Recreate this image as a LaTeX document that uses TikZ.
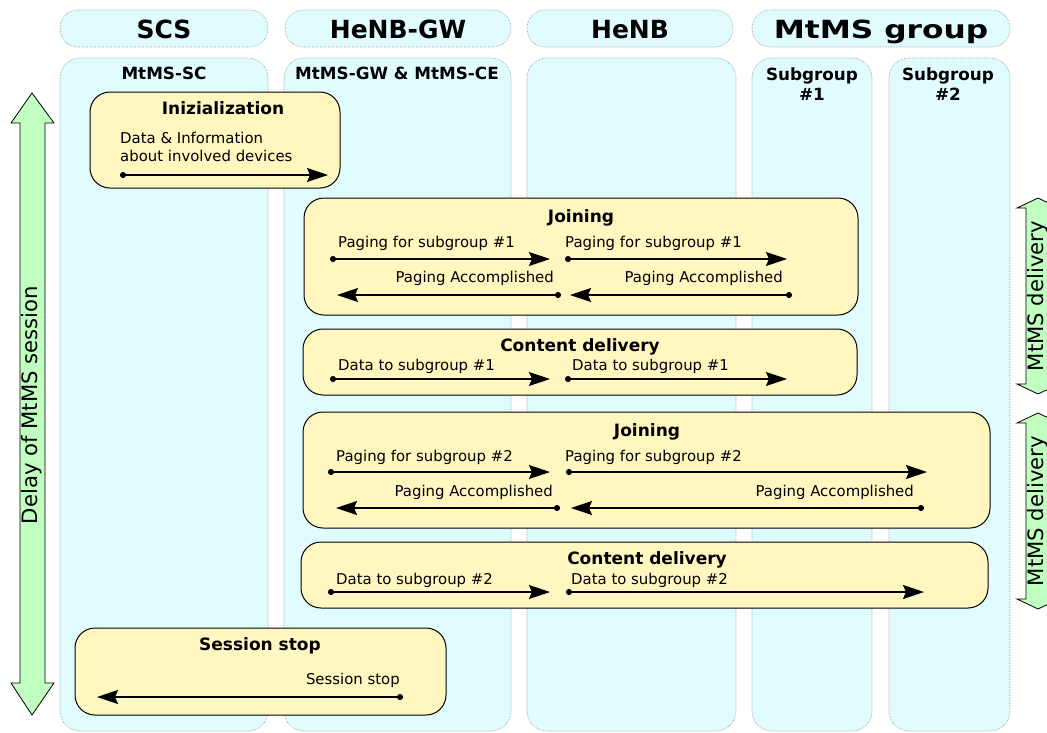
\documentclass[tikz,border=0pt]{standalone}
\usepackage{fontspec}
\setmainfont{DejaVu Sans}
\newfontfamily\widefont[FakeStretch=1.25]{DejaVu Sans}
\usetikzlibrary{arrows.meta,calc}
\definecolor{LaneClr}{rgb}{0.878,0.988,1}
\definecolor{PhaseClr}{rgb}{1,0.965,0.753}
\definecolor{SpanClr}{rgb}{0.753,1,0.753}

\begin{document}
\begin{tikzpicture}[x=1pt,y=-1pt,
  lane/.style={draw=gray!90,densely dotted,line width=0.6pt,fill=LaneClr,rounded corners=20pt},
  pill/.style={lane,rounded corners=18pt},
  phase/.style={draw=black,line width=1pt,fill=PhaseClr,rounded corners=20pt},
  span/.style={draw=black,line width=0.8pt,fill=SpanClr},
  msg/.style={line width=1.5pt,{Circle[length=6pt]}-{Stealth[length=21pt,width=14pt,inset=3pt]}},
  hdr/.style={font=\fontsize{25}{30}\selectfont\bfseries,inner sep=0pt,anchor=base},
  sublbl/.style={font=\fontsize{16.8}{20}\selectfont\bfseries,inner sep=0pt,anchor=base,align=center},
  phasettl/.style={font=\fontsize{17}{20}\selectfont\bfseries,inner sep=0pt,anchor=base},
  txt/.style={font=\fontsize{14.9}{18}\selectfont,inner sep=0pt,anchor=base west},
  txtr/.style={txt,anchor=base east},
  sidelbl/.style={font=\fontsize{21.2}{25}\selectfont,rotate=90,inner sep=0pt}]

\clip (0,0) rectangle (1047,732);

\draw[pill] (60,10) rectangle (268,47);
\draw[pill] (285,10) rectangle (511,47);
\draw[pill] (527,10) rectangle (733,47);
\draw[pill] (752,10) rectangle (1010,47);

\draw[lane] (60,58) rectangle (268,731);
\draw[lane] (284,58) rectangle (511,731);
\draw[lane] (527,58) rectangle (736,731);
\draw[lane] (752,58) rectangle (872,731);
\draw[lane] (889,58) rectangle (1010,731);

\node[hdr] (scs) at (164,38) {SCS};
\node[hdr] (gw) at (398,38) {HeNB-GW};
\node[hdr] (enb) at (630,38) {HeNB};
\node[hdr] (grp) at (881,38) {\widefont\bfseries MtMS group};

\node[sublbl] (sc) at (164,79) {MtMS-SC};
\node[sublbl] (ce) at (397,79) {MtMS-GW \& MtMS-CE};
\node[sublbl] (sg1) at (812,100) {Subgroup\\\#1};
\node[sublbl] (sg2) at (948,100) {Subgroup\\\#2};

\draw[span] (32,93) -- (54,123) -- (45,123) -- (45,683) -- (54,683) -- (32,715)
  -- (11,683) -- (20,683) -- (20,123) -- (11,123) -- cycle;
\draw[span] (1038,198) -- (1059,208) -- (1050,208) -- (1050,384) -- (1059,384) -- (1038,394)
  -- (1017,384) -- (1026,384) -- (1026,208) -- (1017,208) -- cycle;
\draw[span] (1038,413) -- (1059,423) -- (1050,423) -- (1050,599) -- (1059,599) -- (1038,609)
  -- (1017,599) -- (1026,599) -- (1026,423) -- (1017,423) -- cycle;
\node[sidelbl] (delay) at (32,405) {Delay of MtMS session};
\node[sidelbl] (dlv1) at (1038,296) {MtMS delivery};
\node[sidelbl] (dlv2) at (1038,511) {MtMS delivery};

\draw[phase] (90,92) rectangle (340,188);
\draw[phase] (304,198) rectangle (858,315);
\draw[phase] (303,329) rectangle (857,395);
\draw[phase] (303,412) rectangle (990,528);
\draw[phase] (301,542) rectangle (988,608);
\draw[phase] (75,628) rectangle (446,715);

\node[phasettl] (init) at (223,114) {Inizialization};
\node[phasettl] (join1) at (581,222) {Joining};
\node[phasettl] (cont1) at (580,351) {Content delivery};
\node[phasettl] (join2) at (647,436) {Joining};
\node[phasettl] (cont2) at (647,564) {Content delivery};
\node[phasettl] (stop) at (260,650) {Session stop};

\coordinate (In1) at (120,175); \coordinate (In2) at (328,175);
\coordinate (Ja1) at (330,259); \coordinate (Ja2) at (550,259);
\coordinate (Ja3) at (565,259); \coordinate (Ja4) at (787,259);
\coordinate (Jb1) at (561,295); \coordinate (Jb2) at (337,295);
\coordinate (Jb3) at (792,295); \coordinate (Jb4) at (570,295);
\coordinate (Ca1) at (330,379); \coordinate (Ca2) at (550,379);
\coordinate (Ca3) at (565,379); \coordinate (Ca4) at (787,379);
\coordinate (Jc1) at (328,472); \coordinate (Jc2) at (550,472);
\coordinate (Jc3) at (566,472); \coordinate (Jc4) at (927,472);
\coordinate (Jd1) at (560,508); \coordinate (Jd2) at (336,508);
\coordinate (Jd3) at (924,508); \coordinate (Jd4) at (571,508);
\coordinate (Cb1) at (328,592); \coordinate (Cb2) at (550,592);
\coordinate (Cb3) at (566,592); \coordinate (Cb4) at (924,592);
\coordinate (St1) at (403,697); \coordinate (St2) at (97,697);

\draw[msg] (In1) -- (In2);
\draw[msg] (Ja1) -- (Ja2);
\draw[msg] (Ja3) -- (Ja4);
\draw[msg] (Jb1) -- (Jb2);
\draw[msg] (Jb3) -- (Jb4);
\draw[msg] (Ca1) -- (Ca2);
\draw[msg] (Ca3) -- (Ca4);
\draw[msg] (Jc1) -- (Jc2);
\draw[msg] (Jc3) -- (Jc4);
\draw[msg] (Jd1) -- (Jd2);
\draw[msg] (Jd3) -- (Jd4);
\draw[msg] (Cb1) -- (Cb2);
\draw[msg] (Cb3) -- (Cb4);
\draw[msg] (St1) -- (St2);

\node[txt] (info1) at (120,143) {Data \& Information};
\node[txt] (info2) at (120,161) {about involved devices};
\node[txt] (pg1a) at (338,247) {Paging for subgroup \#1};
\node[txt] (pg1b) at (565,247) {Paging for subgroup \#1};
\node[txtr] (ok1a) at (554,282) {Paging Accomplished};
\node[txtr] (ok1b) at (783,282) {Paging Accomplished};
\node[txt] (dt1a) at (338,370) {Data to subgroup \#1};
\node[txt] (dt1b) at (572,370) {Data to subgroup \#1};
\node[txt] (pg2a) at (336,461) {Paging for subgroup \#2};
\node[txt] (pg2b) at (565,461) {Paging for subgroup \#2};
\node[txtr] (ok2a) at (553,496) {Paging Accomplished};
\node[txtr] (ok2b) at (914,496) {Paging Accomplished};
\node[txt] (dt2a) at (336,584) {Data to subgroup \#2};
\node[txt] (dt2b) at (571,584) {Data to subgroup \#2};
\node[txtr] (stp) at (400,684) {Session stop};

\end{tikzpicture}
\end{document}
